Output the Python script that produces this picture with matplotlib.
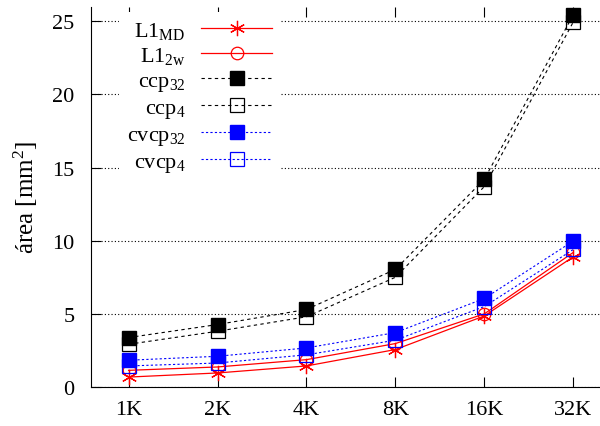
import numpy as np
import matplotlib.pyplot as plt

plt.rcParams['font.family'] = ['Liberation Serif', 'DejaVu Serif']
plt.rcParams['mathtext.fontset'] = 'custom'
plt.rcParams['mathtext.rm'] = 'Liberation Serif'
plt.rcParams['mathtext.it'] = 'Liberation Serif'

# datos
sizes = ['1K', '2K', '4K', '8K', '16K', '32K']
l1_md = [0.68, 0.96, 1.44, 2.56, 4.86, 8.9]
l1_2w = [1.14, 1.37, 1.87, 2.97, 5.0, 9.2]
ccp32 = [3.38, 4.27, 5.3, 8.04, 14.2, 25.45]
ccp4 = [2.92, 3.81, 4.8, 7.5, 13.7, 24.95]
cvcp32 = [1.83, 2.1, 2.67, 3.72, 6.05, 9.98]
cvcp4 = [1.44, 1.64, 2.2, 3.2, 5.5, 9.4]

x = np.arange(len(sizes))

fig = plt.figure(figsize=(6, 4.27), dpi=100)
ax = fig.add_axes([0.152, 0.0913, 0.848, 0.891])

asterisk = (6, 2, 0)
ax.plot(x, l1_md, color='red', lw=0.9, marker=asterisk, ms=11, mew=0.9,
        label='L1$_{\\mathrm{MD}}$')
ax.plot(x, l1_2w, color='red', lw=0.9, marker='o', ms=9, mfc='none', mew=0.9,
        label='L1$_{\\mathrm{2w}}$')
ax.plot(x, ccp32, color='black', lw=0.8, dashes=(3, 3), marker='s', ms=9.5,
        mfc='black', label='ccp$_{32}$')
ax.plot(x, ccp4, color='black', lw=0.8, dashes=(3, 3), marker='s', ms=9.5,
        mfc='none', mew=0.9, label='ccp$_{4}$')
ax.plot(x, cvcp32, color='blue', lw=0.8, dashes=(2, 2), marker='s', ms=9.5,
        mfc='blue', label='cvcp$_{32}$')
ax.plot(x, cvcp4, color='blue', lw=0.8, dashes=(2, 2), marker='s', ms=9.5,
        mfc='none', mew=0.9, label='cvcp$_{4}$')

ax.set_xlim(-0.42, 5.3)
ax.set_ylim(0, 26)
ax.set_xticks(x)
ax.set_xticklabels(sizes)
ax.set_yticks([0, 5, 10, 15, 20, 25])
ax.tick_params(axis='both', direction='in', labelsize=16, length=7, width=0.8)
ax.tick_params(axis='x', top=True, pad=9)
ax.tick_params(axis='y', pad=12)
ax.yaxis.grid(True, linestyle=(0, (1, 2)), color='black', lw=0.8)
ax.set_axisbelow(True)
ax.spines['top'].set_visible(False)
ax.spines['right'].set_visible(False)
ax.set_ylabel('área [mm$^2$]', fontsize=18, labelpad=6)
ax.yaxis.set_label_coords(-0.1, 0.5)

leg = ax.legend(loc='upper right', bbox_to_anchor=(280 / 600, 1 - 13 / 427),
                bbox_transform=fig.transFigure, fontsize=16,
                markerfirst=False, frameon=True, facecolor='white',
                edgecolor='none', framealpha=1, fancybox=False,
                handlelength=3.2, handletextpad=0.7, labelspacing=0.2,
                borderpad=0.35, borderaxespad=0)
for t in leg.get_texts():
    t.set_ha('right')
leg._legend_box.align = 'right'

fig.savefig('out.png', dpi=100)
